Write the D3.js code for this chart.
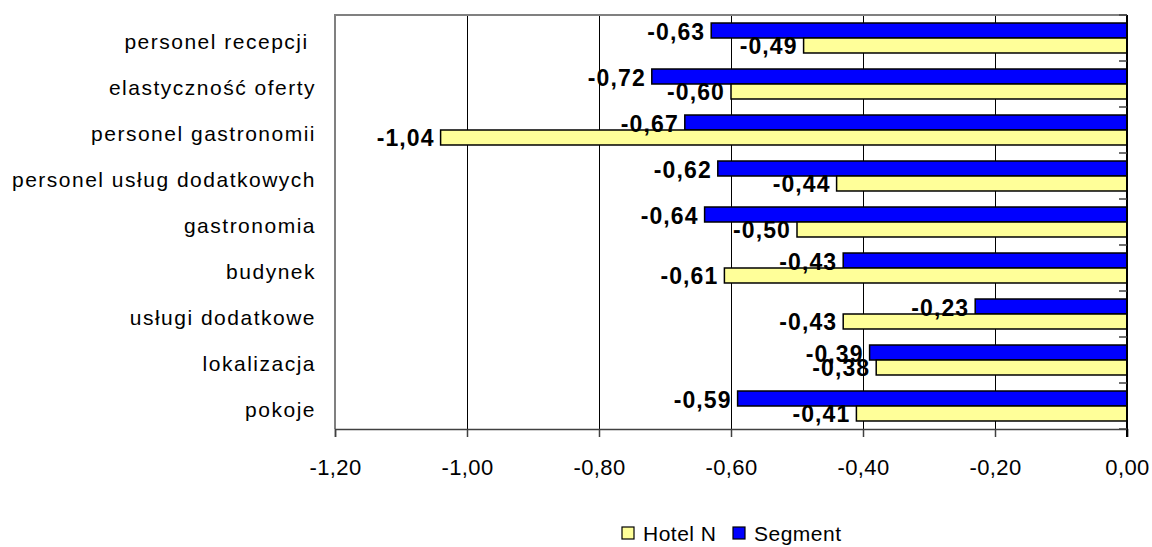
<!DOCTYPE html>
<html>
<head>
<meta charset="utf-8">
<script src="https://cdn.jsdelivr.net/npm/d3@7"></script>
<style>
  html, body { margin: 0; padding: 0; background: #fff; }
  svg { display: block; }
  text { font-family: "Liberation Sans", Arial, sans-serif; fill: #000; }
</style>
</head>
<body>
<svg id="chart" width="1152" height="547"></svg>
<script>
// Categories listed top to bottom
const categories = [
  "personel recepcji ",
  "elastyczność oferty",
  "personel gastronomii",
  "personel usług dodatkowych",
  "gastronomia",
  "budynek",
  "usługi dodatkowe",
  "lokalizacja",
  "pokoje"
];
const segmentValues = [-0.63, -0.72, -0.67, -0.62, -0.64, -0.43, -0.23, -0.39, -0.59];
const hotelValues   = [-0.49, -0.60, -1.04, -0.44, -0.50, -0.61, -0.43, -0.38, -0.41];
const xTickValues = [-1.2, -1.0, -0.8, -0.6, -0.4, -0.2, 0];
const seriesNames = ["Hotel N", "Segment"];

const svg = d3.select("#chart");
const plot = { left: 335, right: 1127, top: 15, bottom: 429 };

const x = d3.scaleLinear().domain([-1.2, 0]).range([plot.left, plot.right]);
const y = d3.scaleBand().domain(categories)
  .range([plot.top, plot.bottom])
  .paddingInner(0.348).paddingOuter(0.174);
const sub = d3.scaleBand().domain(["Segment", "Hotel N"]).range([0, y.bandwidth()]);

// decimal comma, plain hyphen for the sign
const fmt = v => d3.format(".2f")(v).replace(".", ",").replace("\u2212", "-");
const colors = { "Hotel N": "#FFFF99", "Segment": "#0000FF" };

// vertical gridlines
svg.append("g").selectAll("line").data(xTickValues.filter(v => v > -1.2 && v < 0))
  .join("line")
  .attr("x1", d => x(d)).attr("x2", d => x(d))
  .attr("y1", plot.top).attr("y2", plot.bottom)
  .attr("stroke", "#000").attr("stroke-width", 1).attr("shape-rendering", "crispEdges");

// plot frame (top and left)
svg.append("path")
  .attr("d", `M${plot.left},${plot.bottom} V${plot.top} H${plot.right}`)
  .attr("fill", "none").attr("stroke", "#808080").attr("stroke-width", 2);

// bars
const rows = categories.map((c, i) => ({ c, seg: segmentValues[i], hot: hotelValues[i] }));
const series = [
  { name: "Segment", key: "seg" },
  { name: "Hotel N", key: "hot" }
];
series.forEach(s => {
  svg.append("g").selectAll("rect").data(rows).join("rect")
    .attr("x", d => x(d[s.key]))
    .attr("width", d => x(0) - x(d[s.key]))
    .attr("y", d => y(d.c) + sub(s.name))
    .attr("height", sub.bandwidth())
    .attr("fill", colors[s.name])
    .attr("stroke", "#000").attr("stroke-width", 1.5);
});

// x axis
const xAxis = d3.axisBottom(x).tickValues(xTickValues).tickSize(8).tickPadding(22).tickFormat(fmt);
const gx = svg.append("g").attr("transform", `translate(0,${plot.bottom})`).call(xAxis);
gx.select(".domain").attr("stroke", "#404040").attr("stroke-width", 1.5);
gx.selectAll(".tick line").attr("stroke", "#404040").attr("stroke-width", 1.5);
gx.selectAll(".tick text").attr("font-size", 22).attr("font-family", "Liberation Sans, Arial, sans-serif").attr("letter-spacing", 0.4);

// y axis at zero, ticks between categories
const boundaries = d3.range(categories.length + 1).map(i => plot.top + i * y.step());
svg.append("line")
  .attr("x1", x(0)).attr("x2", x(0)).attr("y1", plot.top).attr("y2", plot.bottom + 8)
  .attr("stroke", "#000").attr("stroke-width", 2);
svg.append("g").selectAll("line").data(boundaries).join("line")
  .attr("x1", x(0) - 8).attr("x2", x(0))
  .attr("y1", d => d).attr("y2", d => d)
  .attr("stroke", "#404040").attr("stroke-width", 1.5);

// category labels
svg.append("g").selectAll("text").data(categories).join("text")
  .attr("x", 316)
  .attr("y", d => y(d) + y.bandwidth() / 2 + 3)
  .attr("text-anchor", "end")
  .attr("dominant-baseline", "central")
  .attr("font-size", 21)
  .attr("letter-spacing", 1.5)
  .style("white-space", "pre")
  .text(d => d);

// value labels
series.forEach(s => {
  svg.append("g").selectAll("text").data(rows).join("text")
    .attr("x", d => x(d[s.key]) - 6)
    .attr("y", d => y(d.c) + sub(s.name) + sub.bandwidth() / 2 + 1)
    .attr("text-anchor", "end")
    .attr("dominant-baseline", "central")
    .attr("font-size", 23)
    .attr("font-weight", "bold")
    .attr("letter-spacing", 1.1)
    .text(d => fmt(d[s.key]));
});

// legend
const legend = svg.append("g").attr("transform", "translate(622,527)");
const legendItems = [
  { name: seriesNames[0], dx: 0 },
  { name: seriesNames[1], dx: 111 }
];
legendItems.forEach(it => {
  const g = legend.append("g").attr("transform", `translate(${it.dx},0)`);
  g.append("rect").attr("width", 12).attr("height", 12)
    .attr("fill", colors[it.name]).attr("stroke", "#000").attr("stroke-width", 1.2);
  g.append("text").attr("x", 21).attr("y", 6)
    .attr("dominant-baseline", "central")
    .attr("font-size", 21).attr("letter-spacing", 0.5)
    .text(it.name);
});
</script>
</body>
</html>
